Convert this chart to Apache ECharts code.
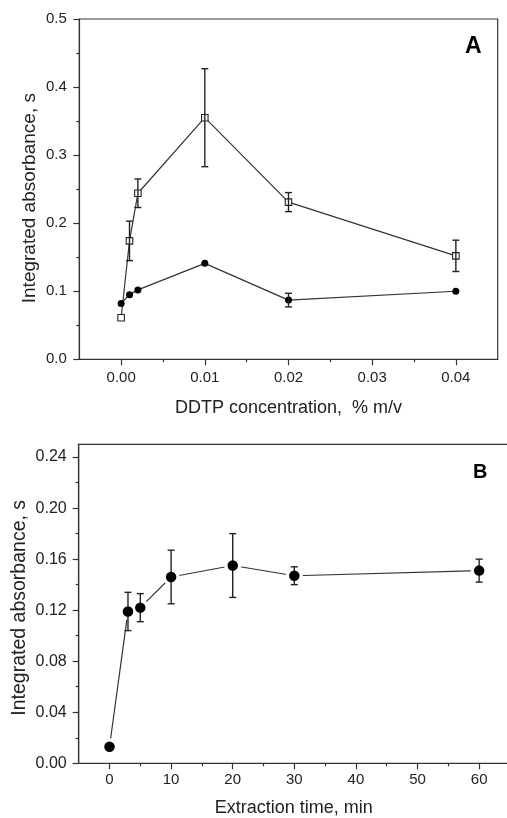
<!DOCTYPE html>
<html><head><meta charset="utf-8">
<script src="https://cdn.jsdelivr.net/npm/echarts@6/dist/echarts.min.js"></script>
<style>html,body{margin:0;padding:0;background:#fff}#c{width:507px;height:818px}</style>
</head><body><div id="c"></div>
<script>
// Panel A data
const concA = [0, 0.001, 0.002, 0.01, 0.02, 0.04];
const squareA = [0.061, 0.174, 0.244, 0.355, 0.231, 0.152];
const squareErrA = [0, 0.029, 0.021, 0.072, 0.014, 0.023];
const circleA = [0.082, 0.095, 0.102, 0.141, 0.087, 0.100];
const circleErrA = [0, 0, 0, 0, 0.010, 0];
const xTicksA = [0, 0.01, 0.02, 0.03, 0.04];
const xMinorA = [0.005, 0.015, 0.025, 0.035];
const yTicksA = [0, 0.1, 0.2, 0.3, 0.4, 0.5];
const yMinorA = [0.05, 0.15, 0.25, 0.35, 0.45];
// Panel B data
const timeB = [0, 3, 5, 10, 20, 30, 60];
const absB = [0.013, 0.119, 0.122, 0.146, 0.155, 0.147, 0.151];
const errB = [0, 0.015, 0.011, 0.021, 0.025, 0.007, 0.009];
const xTicksB = [0, 10, 20, 30, 40, 50, 60];
const xMinorB = [5, 15, 25, 35, 45, 55];
const yTicksB = [0, 0.04, 0.08, 0.12, 0.16, 0.20, 0.24];
const yMinorB = [0.02, 0.06, 0.10, 0.14, 0.18, 0.22];

const FONT = '"Liberation Sans", Arial, sans-serif';
const AX = '#333';
const TXT = '#222';

function mainAxis(opts) {
  return Object.assign({
    type: 'value',
    offset: 0,
    axisLine: { show: true, onZero: false, lineStyle: { color: AX, width: 1.2 } },
    axisTick: { show: true, inside: false, length: 6, customValues: opts.ticks, lineStyle: { color: AX, width: 1.2 } },
    axisLabel: { show: true, customValues: opts.ticks, formatter: opts.fmt, fontFamily: FONT, fontSize: opts.fs || 15, color: TXT, margin: opts.margin },
    splitLine: { show: false },
    nameLocation: 'middle',
    nameMoveOverlap: false,
    nameTextStyle: Object.assign({ fontFamily: FONT, fontSize: 18, color: TXT }, opts.nts || {})
  }, opts.extra);
}
function minorAxis(opts) {
  return Object.assign({
    type: 'value',
    offset: 0,
    axisLine: { show: false, onZero: false },
    axisTick: { show: true, inside: false, length: 3, customValues: opts.ticks, lineStyle: { color: AX, width: 1.2 } },
    axisLabel: { show: false },
    splitLine: { show: false }
  }, opts.extra);
}

function errData(xs, ys, es) {
  return xs.map((x, i) => [x, ys[i] - es[i], ys[i] + es[i]]);
}
function errRender(params, api) {
  const x = api.value(0), lo = api.value(1), hi = api.value(2);
  if (hi - lo < 1e-9) return null;
  const p1 = api.coord([x, hi]);
  const p2 = api.coord([x, lo]);
  const w = 3.5;
  const st = { stroke: '#222', lineWidth: 1.4 };
  return {
    type: 'group',
    children: [
      { type: 'line', shape: { x1: p1[0], y1: p1[1], x2: p2[0], y2: p2[1] }, style: st },
      { type: 'line', shape: { x1: p1[0] - w, y1: p1[1], x2: p1[0] + w, y2: p1[1] }, style: st },
      { type: 'line', shape: { x1: p2[0] - w, y1: p2[1], x2: p2[0] + w, y2: p2[1] }, style: st }
    ]
  };
}

const chart = echarts.init(document.getElementById('c'), null, { renderer: 'canvas' });
const fmt2 = v => v.toFixed(2);
const fmt1 = v => v.toFixed(1);
const fmt0 = v => String(Math.round(v));

chart.setOption({
  animation: false,
  backgroundColor: '#fff',
  grid: [
    { left: 79.3, top: 19, width: 418.4, height: 340.3, show: true, borderColor: AX, borderWidth: 1.2, backgroundColor: 'transparent', containLabel: false, outerBoundsMode: 'none' },
    { left: 78.7, top: 444.3, width: 430, height: 319, show: true, borderColor: AX, borderWidth: 1.2, backgroundColor: 'transparent', containLabel: false, outerBoundsMode: 'none' }
  ],
  xAxis: [
    mainAxis({ ticks: xTicksA, fmt: fmt2, margin: 11, extra: { gridIndex: 0, position: 'bottom', min: -0.005, max: 0.045, name: 'DDTP concentration,  % m/v', nameGap: 40 } }),
    minorAxis({ ticks: xMinorA, extra: { gridIndex: 0, position: 'bottom', min: -0.005, max: 0.045 } }),
    mainAxis({ ticks: xTicksB, fmt: fmt0, margin: 9, extra: { gridIndex: 1, position: 'bottom', min: -5, max: 64.8, name: 'Extraction time, min', nameGap: 36 } }),
    minorAxis({ ticks: xMinorB, extra: { gridIndex: 1, position: 'bottom', min: -5, max: 64.8 } })
  ],
  yAxis: [
    mainAxis({ ticks: yTicksA, fmt: fmt1, margin: 12.5, nts: { fontSize: 19, padding: [0, 18, 0, 0] },
      extra: { gridIndex: 0, position: 'left', min: 0, max: 0.5, name: 'Integrated absorbance, s', nameGap: 40 } }),
    minorAxis({ ticks: yMinorA, extra: { gridIndex: 0, position: 'left', min: 0, max: 0.5 } }),
    mainAxis({ ticks: yTicksB, fmt: fmt2, margin: 12, fs: 16, nts: { fontSize: 19.5, padding: [0, 8, 0, 0] },
      extra: { gridIndex: 1, position: 'left', min: 0, max: 0.25, name: 'Integrated absorbance, s', nameGap: 49 } }),
    minorAxis({ ticks: yMinorB, extra: { gridIndex: 1, position: 'left', min: 0, max: 0.25 } })
  ],
  graphic: [
    { type: 'text', left: 465, top: 35, style: { text: 'A', font: 'bold 23px ' + FONT, fill: '#000' } },
    { type: 'text', left: 473, top: 462, style: { text: 'B', font: 'bold 20px ' + FONT, fill: '#000' } }
  ],
  series: [
    // Panel A: open squares
    { type: 'line', xAxisIndex: 0, yAxisIndex: 0, data: concA.map((x, i) => [x, squareA[i]]), z: 2,
      lineStyle: { color: '#333', width: 1.2 }, symbol: 'rect', symbolSize: 6.5,
      itemStyle: { color: '#fff', borderColor: '#222', borderWidth: 1.1 } },
    { type: 'custom', xAxisIndex: 0, yAxisIndex: 0, renderItem: errRender, data: errData(concA, squareA, squareErrA), z: 3 },
    // Panel A: filled circles
    { type: 'line', xAxisIndex: 0, yAxisIndex: 0, data: concA.map((x, i) => [x, circleA[i]]), z: 2,
      lineStyle: { color: '#333', width: 1.2 }, symbol: 'circle', symbolSize: 7,
      itemStyle: { color: '#000', borderColor: '#000', borderWidth: 0 } },
    { type: 'custom', xAxisIndex: 0, yAxisIndex: 0, renderItem: errRender, data: errData(concA, circleA, circleErrA), z: 3 },
    // Panel B: line with white halo (gaps), then error bars, then black markers
    { type: 'line', xAxisIndex: 2, yAxisIndex: 2, data: timeB.map((x, i) => [x, absB[i]]), z: 2,
      lineStyle: { color: '#333', width: 1.2 }, symbol: 'circle', symbolSize: 17,
      itemStyle: { color: '#fff', borderWidth: 0 } },
    { type: 'custom', xAxisIndex: 2, yAxisIndex: 2, renderItem: errRender, data: errData(timeB, absB, errB), z: 3 },
    { type: 'scatter', xAxisIndex: 2, yAxisIndex: 2, data: timeB.map((x, i) => [x, absB[i]]), z: 4,
      symbol: 'circle', symbolSize: 10.5, itemStyle: { color: '#000', opacity: 1 } }
  ]
});
</script>
</body></html>
